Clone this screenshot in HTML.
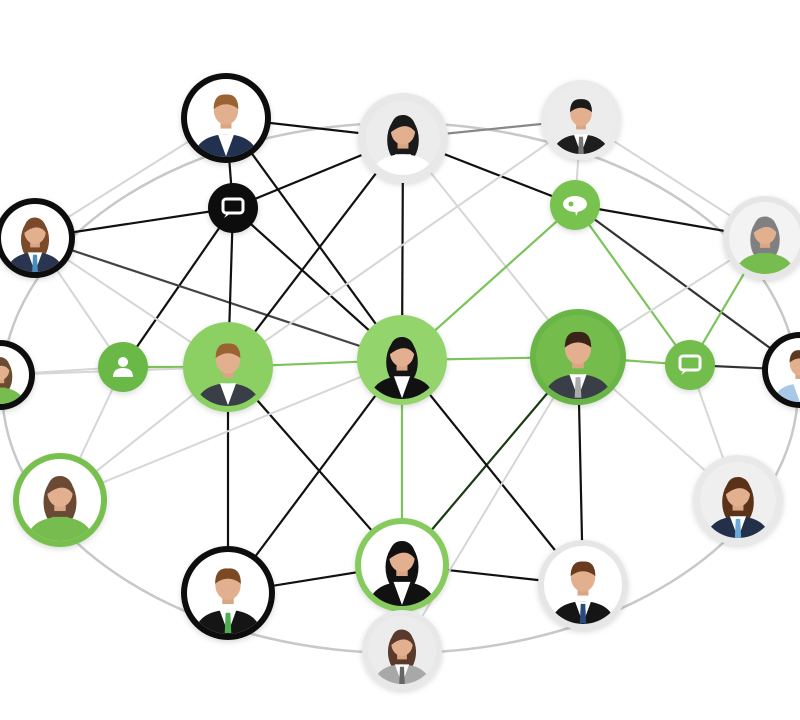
<!DOCTYPE html>
<html><head><meta charset="utf-8">
<style>
html,body{margin:0;padding:0;background:#fff;width:800px;height:720px;overflow:hidden;font-family:"Liberation Sans",sans-serif;}
svg{display:block}
</style></head>
<body>
<svg id="s" width="800" height="720" viewBox="0 0 800 720" xmlns="http://www.w3.org/2000/svg"></svg>
<script>
var N={
1:[226,118,45],2:[403,138,45],3:[581,120,40],4:[35,238,40],5:[233,208,25],6:[575,205,25],
7:[765,238,42],8:[0,375,35],9:[123,367,25],10:[228,367,45],11:[402,360,45],12:[578,357,48],
13:[690,365,25],14:[800,370,38],15:[60,500,47],16:[738,500,45],17:[228,593,47],18:[402,565,47],
19:[583,585,45],20:[402,650,40]};
var G='#7cc45a',K='#111',L='#d6d6d6';
var E=[
[1,2,K],[2,3,'#888'],[1,5,K],[5,4,K],[5,2,K],[1,11,K],[5,11,K],[5,9,K],[4,11,'#444'],[5,10,K],
[2,10,K],[2,11,K],[2,6,K],[6,7,K],[6,14,'#333'],[2,12,L],[3,10,L],[3,6,L],
[10,11,G],[11,12,G],[12,13,G],[13,14,'#333'],[9,10,G],[9,8,L],[6,11,G],[6,13,G],[7,13,G],
[11,18,G],[12,18,'#1a3a10'],[10,17,K],[10,18,K],[11,17,K],[11,19,K],[12,19,K],[17,18,K],[18,19,K],
[9,15,L],[10,15,L],[11,15,L],[12,16,L],[13,16,L],[12,20,L],[4,9,L],[4,10,L],[1,4,L],[3,7,L],[7,12,L],[8,10,L]];
var s='<defs><filter id="sh" x="-30%" y="-30%" width="160%" height="160%"><feDropShadow dx="0" dy="2" stdDeviation="3" flood-opacity="0.15"/></filter></defs>';
s+='<ellipse cx="400" cy="388" rx="398" ry="265" fill="none" stroke="#c8c8c8" stroke-width="2.5"/>';
E.forEach(function(e){var a=N[e[0]],b=N[e[1]];s+='<line x1="'+a[0]+'" y1="'+a[1]+'" x2="'+b[0]+'" y2="'+b[1]+'" stroke="'+e[2]+'" stroke-width="'+(e[2]==L?2:2.2)+'"/>';});
var cid=0;
function person(n,ring,ringW,bg,hair,suit,shirt,tie,fem){
 var c=N[n],x=c[0],y=c[1],r=c[2];cid++;
 var o='<g filter="url(#sh)"><circle cx="'+x+'" cy="'+y+'" r="'+r+'" fill="'+ring+'"/></g>';
 var ir=r-ringW;
 o+='<clipPath id="c'+cid+'"><circle cx="'+x+'" cy="'+y+'" r="'+ir+'"/></clipPath>';
 o+='<circle cx="'+x+'" cy="'+y+'" r="'+ir+'" fill="'+bg+'"/>';
 o+='<g clip-path="url(#c'+cid+')">';
 var hs=r*0.27,hy=y-r*0.17;
 if(fem) o+='<ellipse cx="'+x+'" cy="'+(hy+hs*0.8)+'" rx="'+hs*1.3+'" ry="'+hs*2+'" fill="'+hair+'"/>';
 o+='<path d="M'+(x-r*0.75)+' '+(y+r)+' Q'+(x-r*0.7)+' '+(y+r*0.38)+' '+x+' '+(y+r*0.36)+' Q'+(x+r*0.7)+' '+(y+r*0.38)+' '+(x+r*0.75)+' '+(y+r)+'Z" fill="'+suit+'"/>';
 o+='<path d="M'+(x-r*0.18)+' '+(y+r*0.36)+' L'+x+' '+(y+r*0.85)+' L'+(x+r*0.18)+' '+(y+r*0.36)+'Z" fill="'+shirt+'"/>';
 if(tie) o+='<path d="M'+(x-r*0.05)+' '+(y+r*0.42)+' L'+(x+r*0.05)+' '+(y+r*0.42)+' L'+(x+r*0.07)+' '+(y+r*0.85)+' L'+(x-r*0.07)+' '+(y+r*0.85)+'Z" fill="'+tie+'"/>';
 o+='<rect x="'+(x-hs*0.45)+'" y="'+(hy+hs*0.6)+'" width="'+hs*0.9+'" height="'+hs*0.9+'" fill="#d9a583"/>';
 o+='<ellipse cx="'+x+'" cy="'+hy+'" rx="'+hs+'" ry="'+hs*1.18+'" fill="#e2b08f"/>';
 if(!fem) o+='<path d="M'+(x-hs*1.02)+' '+(hy-hs*0.1)+' Q'+(x-hs)+' '+(hy-hs*1.4)+' '+x+' '+(hy-hs*1.3)+' Q'+(x+hs)+' '+(hy-hs*1.4)+' '+(x+hs*1.02)+' '+(hy-hs*0.1)+' Q'+x+' '+(hy-hs*0.9)+' '+(x-hs*1.02)+' '+(hy-hs*0.1)+'Z" fill="'+hair+'"/>';
 else o+='<path d="M'+(x-hs*1.05)+' '+(hy+hs*0.2)+' Q'+(x-hs)+' '+(hy-hs*1.4)+' '+(x+hs*0.2)+' '+(hy-hs*1.25)+' Q'+(x+hs*1.1)+' '+(hy-hs)+' '+(x+hs*1.05)+' '+(hy+hs*0.2)+' Q'+(x+hs*0.3)+' '+(hy-hs*0.9)+' '+(x-hs*1.05)+' '+(hy+hs*0.2)+'Z" fill="'+hair+'"/>';
 o+='</g>';return o;}
function icon(n,fill,kind){var c=N[n],x=c[0],y=c[1],r=c[2];
 var o='<circle cx="'+x+'" cy="'+y+'" r="'+r+'" fill="'+fill+'" filter="url(#sh)"/>';
 if(kind=='chat') o+='<rect x="'+(x-10)+'" y="'+(y-9)+'" width="20" height="14" rx="3" fill="none" stroke="#fff" stroke-width="3"/><path d="M'+(x-6)+' '+(y+5)+' l-3 5 l7 -5z" fill="#fff"/>';
 if(kind=='blob') o+='<ellipse cx="'+x+'" cy="'+(y-1)+'" rx="12" ry="8" fill="#fff"/><circle cx="'+(x-4)+'" cy="'+(y-1)+'" r="2.5" fill="'+fill+'"/><path d="M'+x+' '+(y+5)+' l1 6 l3 -6z" fill="#fff"/>';
 if(kind=='user') o+='<circle cx="'+x+'" cy="'+(y-5)+'" r="5" fill="#fff"/><path d="M'+(x-10)+' '+(y+10)+' Q'+(x-10)+' '+(y+1)+' '+x+' '+(y+1)+' Q'+(x+10)+' '+(y+1)+' '+(x+10)+' '+(y+10)+'Z" fill="#fff"/>';
 return o;}
s+=icon(5,'#111','chat');s+=icon(6,'#78c24f','blob');s+=icon(9,'#6bb844','user');s+=icon(13,'#72bd4c','chat');
s+=person(1,'#111',6,'#fff','#9a6332','#233150','#fff',null,false);
s+=person(2,'#e8e8e8',8,'#ececec','#1a1a1a','#fff','#fff',null,true);
s+=person(3,'#ebebeb',6,'#ececec','#1a1a1a','#1e1e1e','#fff','#777',false);
s+=person(4,'#111',6,'#fff','#7a4a2a','#2a3550','#fff','#4a8ec0',true);
s+=person(7,'#e6e6e6',6,'#f3f3f3','#808080','#76bc4f','#76bc4f',null,true);
s+=person(8,'#111',6,'#fff','#6a4a30','#76bc4f','#76bc4f',null,true);
s+=person(10,'#8ccf63',6,'#8ccf63','#9a6332','#3a3f47','#fff',null,false);
s+=person(11,'#94d46c',6,'#94d46c','#141414','#111','#fff',null,true);
s+=person(12,'#6ab546',6,'#74bd4c','#3a2418','#3a3f47','#fff','#aaa',false);
s+=person(14,'#111',6,'#fff','#5a3a20','#a8c8e8','#fff',null,false);
s+=person(15,'#77c04e',6,'#fff','#6a4a35','#76bc4f','#76bc4f',null,true);
s+=person(16,'#e9e9e9',7,'#efefef','#5a3218','#22304a','#fff','#6aaad8',true);
s+=person(17,'#111',6,'#fff','#7a4a25','#151515','#fff','#4caf50',false);
s+=person(18,'#87cb5f',6,'#fff','#111','#111','#fff',null,true);
s+=person(19,'#e6e6e6',6,'#fff','#6a3c1f','#151515','#fff','#2a4a80',false);
s+=person(20,'#e8e8e8',6,'#ececec','#5a3a2a','#a8a8a8','#fff','#666',true);
document.getElementById('s').innerHTML=s;
</script>
</body></html>
